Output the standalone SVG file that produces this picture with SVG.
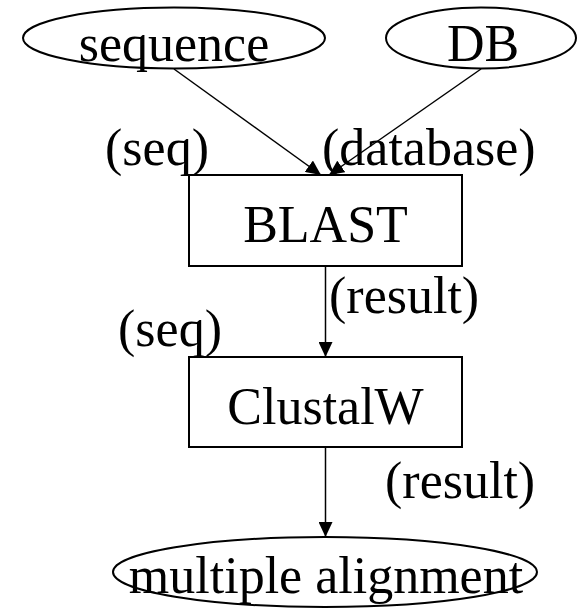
<svg xmlns="http://www.w3.org/2000/svg" width="577" height="609" viewBox="0 0 577 609">
<style>
  .shape { fill: #ffffff; stroke: #000000; stroke-width: 2; }
  .edge { fill: none; stroke: #000000; stroke-width: 1.5; }
  text { font-family: "Liberation Serif", "Times New Roman", serif; font-size: 52px; fill: #000000; }
  .c { text-anchor: middle; }
</style>
<defs>
  <marker id="arrow" markerUnits="userSpaceOnUse" markerWidth="16" markerHeight="14" refX="15" refY="7" orient="auto">
    <path d="M0,0 L15,7 L0,14 Z" fill="#000000"/>
  </marker>
</defs>
<g id="connectors">
  <line class="edge" x1="174" y1="69" x2="321" y2="175" marker-end="url(#arrow)"/>
  <line class="edge" x1="481" y1="69" x2="329" y2="175" marker-end="url(#arrow)"/>
  <line class="edge" x1="325.5" y1="266" x2="325.5" y2="357" marker-end="url(#arrow)"/>
  <line class="edge" x1="325.5" y1="447" x2="325.5" y2="537" marker-end="url(#arrow)"/>
  <text x="105" y="165">(seq)</text>
  <text x="322" y="165">(database)</text>
  <text x="329" y="313">(result)</text>
  <text x="118" y="346">(seq)</text>
  <text x="385" y="498">(result)</text>
</g>
<g id="sequence">
  <ellipse class="shape" cx="174" cy="38" rx="151" ry="30.5"/>
  <text class="c" x="174" y="61">sequence</text>
</g>
<g id="DB">
  <ellipse class="shape" cx="481" cy="38" rx="95" ry="30.5"/>
  <text class="c" x="483" y="61">DB</text>
</g>
<g id="BLAST">
  <rect class="shape" x="189" y="175" width="273" height="91"/>
  <text class="c" x="325.5" y="242">BLAST</text>
</g>
<g id="ClustalW">
  <rect class="shape" x="189" y="357" width="273" height="90"/>
  <text class="c" x="325.5" y="424">ClustalW</text>
</g>
<g id="multiple_alignment">
  <ellipse class="shape" cx="325" cy="572" rx="212" ry="35"/>
  <text class="c" x="326" y="593">multiple alignment</text>
</g>
</svg>
